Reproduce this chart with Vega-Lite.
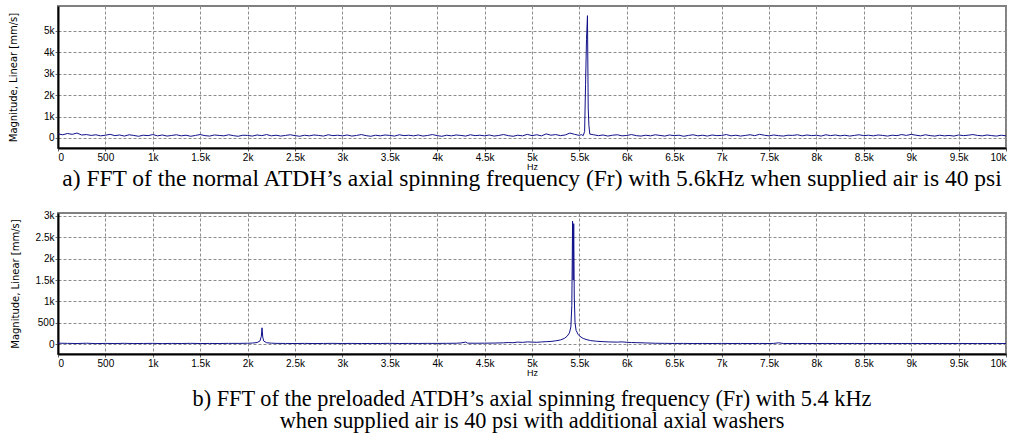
{
  "$schema": "https://vega.github.io/schema/vega-lite/v6.json",
  "background": "white",
  "padding": {"left": 7, "top": 5, "right": 10, "bottom": 2},
  "columns": 1,
  "align": "none",
  "spacing": {"row": 17, "column": 0},
  "config": {
    "view": {"stroke": "#808080", "strokeWidth": 2},
    "axis": {
      "labelFont": "Liberation Sans", "labelFontSize": 10, "labelColor": "#000",
      "titleFont": "DejaVu Sans", "titleFontSize": 10, "titleFontWeight": "normal", "titleColor": "#000",
      "domainColor": "#000", "domainWidth": 2,
      "tickColor": "#666666", "tickSize": 3, "labelPadding": 1,
      "labelExpr": "datum.value == 0 ? '0' : (datum.value < 1000 ? format(datum.value, 'd') : format(datum.value / 1000, '~g') + 'k')"
    },
    "title": {"font": "Liberation Serif", "fontWeight": "normal", "color": "#000", "anchor": "middle"}
  },
  "datasets": {
    "a": [
      {"f":0,"m":190},{"f":50,"m":150},{"f":100,"m":210},{"f":150,"m":170},{"f":200,"m":230},{"f":250,"m":140},{"f":300,"m":160},{"f":350,"m":120},{"f":400,"m":150},{"f":450,"m":100},
      {"f":500,"m":130},{"f":550,"m":170},{"f":600,"m":110},{"f":650,"m":140},{"f":700,"m":90},{"f":750,"m":150},{"f":800,"m":120},{"f":850,"m":80},{"f":900,"m":130},{"f":950,"m":110},
      {"f":1000,"m":160},{"f":1050,"m":100},{"f":1100,"m":140},{"f":1150,"m":90},{"f":1200,"m":120},{"f":1250,"m":150},{"f":1300,"m":100},{"f":1350,"m":130},{"f":1400,"m":80},{"f":1450,"m":120},
      {"f":1500,"m":160},{"f":1550,"m":110},{"f":1600,"m":90},{"f":1650,"m":140},{"f":1700,"m":120},{"f":1750,"m":100},{"f":1800,"m":150},{"f":1850,"m":110},{"f":1900,"m":80},{"f":1950,"m":130},
      {"f":2000,"m":120},{"f":2050,"m":90},{"f":2100,"m":140},{"f":2150,"m":110},{"f":2200,"m":160},{"f":2250,"m":100},{"f":2300,"m":130},{"f":2350,"m":90},{"f":2400,"m":120},{"f":2450,"m":150},
      {"f":2500,"m":110},{"f":2550,"m":80},{"f":2600,"m":130},{"f":2650,"m":100},{"f":2700,"m":140},{"f":2750,"m":120},{"f":2800,"m":90},{"f":2850,"m":150},{"f":2900,"m":110},{"f":2950,"m":130},
      {"f":3000,"m":100},{"f":3050,"m":140},{"f":3100,"m":90},{"f":3150,"m":120},{"f":3200,"m":160},{"f":3250,"m":110},{"f":3300,"m":80},{"f":3350,"m":130},{"f":3400,"m":100},{"f":3450,"m":140},
      {"f":3500,"m":120},{"f":3550,"m":90},{"f":3600,"m":150},{"f":3650,"m":110},{"f":3700,"m":130},{"f":3750,"m":100},{"f":3800,"m":140},{"f":3850,"m":90},{"f":3900,"m":120},{"f":3950,"m":160},
      {"f":4000,"m":110},{"f":4050,"m":80},{"f":4100,"m":130},{"f":4150,"m":100},{"f":4200,"m":140},{"f":4250,"m":120},{"f":4300,"m":90},{"f":4350,"m":150},{"f":4400,"m":110},{"f":4450,"m":130},
      {"f":4500,"m":100},{"f":4550,"m":140},{"f":4600,"m":90},{"f":4650,"m":120},{"f":4700,"m":160},{"f":4750,"m":110},{"f":4800,"m":80},{"f":4850,"m":130},{"f":4900,"m":100},{"f":4950,"m":170},
      {"f":5000,"m":110},{"f":5050,"m":150},{"f":5100,"m":100},{"f":5150,"m":190},{"f":5200,"m":130},{"f":5250,"m":160},{"f":5300,"m":110},{"f":5350,"m":140},{"f":5400,"m":230},{"f":5450,"m":170},
      {"f":5500,"m":120},{"f":5520,"m":160},{"f":5540,"m":110},{"f":5555,"m":300},{"f":5565,"m":2500},{"f":5575,"m":4600},{"f":5585,"m":5700},{"f":5593,"m":1400},{"f":5600,"m":600},{"f":5610,"m":180},
      {"f":5650,"m":150},{"f":5700,"m":110},{"f":5750,"m":140},{"f":5800,"m":90},{"f":5850,"m":130},{"f":5900,"m":150},{"f":5950,"m":100},{"f":6000,"m":120},
      {"f":6050,"m":160},{"f":6100,"m":110},{"f":6150,"m":90},{"f":6200,"m":130},{"f":6250,"m":100},{"f":6300,"m":150},{"f":6350,"m":120},{"f":6400,"m":90},{"f":6450,"m":140},{"f":6500,"m":110},
      {"f":6550,"m":130},{"f":6600,"m":80},{"f":6650,"m":120},{"f":6700,"m":150},{"f":6750,"m":100},{"f":6800,"m":130},{"f":6850,"m":90},{"f":6900,"m":140},{"f":6950,"m":110},{"f":7000,"m":120},
      {"f":7050,"m":160},{"f":7100,"m":100},{"f":7150,"m":130},{"f":7200,"m":90},{"f":7250,"m":120},{"f":7300,"m":150},{"f":7350,"m":110},{"f":7400,"m":170},{"f":7450,"m":130},{"f":7500,"m":100},
      {"f":7550,"m":140},{"f":7600,"m":110},{"f":7650,"m":90},{"f":7700,"m":130},{"f":7750,"m":120},{"f":7800,"m":150},{"f":7850,"m":100},{"f":7900,"m":140},{"f":7950,"m":110},{"f":8000,"m":130},
      {"f":8050,"m":90},{"f":8100,"m":150},{"f":8150,"m":110},{"f":8200,"m":140},{"f":8250,"m":100},{"f":8300,"m":130},{"f":8350,"m":90},{"f":8400,"m":120},{"f":8450,"m":150},{"f":8500,"m":110},
      {"f":8550,"m":130},{"f":8600,"m":100},{"f":8650,"m":140},{"f":8700,"m":120},{"f":8750,"m":90},{"f":8800,"m":130},{"f":8850,"m":110},{"f":8900,"m":160},{"f":8950,"m":120},{"f":9000,"m":170},
      {"f":9050,"m":130},{"f":9100,"m":100},{"f":9150,"m":150},{"f":9200,"m":110},{"f":9250,"m":90},{"f":9300,"m":130},{"f":9350,"m":100},{"f":9400,"m":120},{"f":9450,"m":90},{"f":9500,"m":140},
      {"f":9550,"m":110},{"f":9600,"m":130},{"f":9650,"m":160},{"f":9700,"m":120},{"f":9750,"m":100},{"f":9800,"m":140},{"f":9850,"m":110},{"f":9900,"m":90},{"f":9950,"m":130},{"f":10000,"m":100}
    ],
    "b": [
      {"f":0,"m":20},{"f":100,"m":15},{"f":200,"m":12},{"f":300,"m":18},{"f":400,"m":10},{"f":500,"m":14},{"f":600,"m":12},{"f":700,"m":16},{"f":800,"m":11},{"f":900,"m":13},
      {"f":1000,"m":15},{"f":1100,"m":10},{"f":1200,"m":14},{"f":1300,"m":12},{"f":1400,"m":16},{"f":1500,"m":11},{"f":1600,"m":13},{"f":1700,"m":12},{"f":1800,"m":15},{"f":1900,"m":14},
      {"f":2000,"m":18},{"f":2050,"m":22},{"f":2100,"m":35},{"f":2130,"m":70},{"f":2145,"m":180},{"f":2152,"m":380},{"f":2160,"m":160},{"f":2170,"m":70},{"f":2200,"m":30},{"f":2250,"m":20},
      {"f":2300,"m":15},{"f":2400,"m":13},{"f":2500,"m":12},{"f":2600,"m":14},{"f":2700,"m":11},{"f":2800,"m":13},{"f":2900,"m":15},{"f":3000,"m":12},{"f":3100,"m":14},{"f":3200,"m":11},
      {"f":3300,"m":13},{"f":3400,"m":12},{"f":3500,"m":16},{"f":3600,"m":12},{"f":3700,"m":14},{"f":3800,"m":13},{"f":3900,"m":15},{"f":4000,"m":14},{"f":4100,"m":16},{"f":4200,"m":18},
      {"f":4250,"m":25},{"f":4300,"m":45},{"f":4320,"m":20},{"f":4400,"m":18},{"f":4500,"m":20},{"f":4600,"m":22},{"f":4700,"m":28},{"f":4750,"m":35},{"f":4800,"m":30},{"f":4850,"m":45},
      {"f":4900,"m":38},{"f":4950,"m":50},{"f":5000,"m":45},{"f":5050,"m":40},{"f":5100,"m":48},{"f":5150,"m":55},{"f":5200,"m":60},{"f":5250,"m":75},{"f":5300,"m":95},{"f":5340,"m":130},
      {"f":5370,"m":180},{"f":5395,"m":260},{"f":5410,"m":400},{"f":5420,"m":900},{"f":5428,"m":2880},{"f":5434,"m":1500},{"f":5440,"m":2820},{"f":5446,"m":1100},{"f":5454,"m":500},{"f":5465,"m":320},
      {"f":5485,"m":230},{"f":5505,"m":180},{"f":5540,"m":130},{"f":5580,"m":100},{"f":5620,"m":80},{"f":5680,"m":65},{"f":5750,"m":55},{"f":5820,"m":48},{"f":5900,"m":45},{"f":5950,"m":50},
      {"f":6000,"m":40},{"f":6050,"m":35},{"f":6100,"m":32},{"f":6200,"m":25},{"f":6300,"m":18},{"f":6400,"m":15},{"f":6500,"m":13},{"f":6600,"m":14},{"f":6700,"m":12},{"f":6800,"m":13},
      {"f":6900,"m":12},{"f":7000,"m":14},{"f":7100,"m":12},{"f":7200,"m":13},{"f":7300,"m":11},{"f":7400,"m":13},{"f":7500,"m":12},{"f":7550,"m":14},{"f":7600,"m":28},{"f":7650,"m":13},
      {"f":7700,"m":12},{"f":7800,"m":13},{"f":7900,"m":11},{"f":8000,"m":12},{"f":8100,"m":13},{"f":8200,"m":11},{"f":8300,"m":12},{"f":8400,"m":13},{"f":8500,"m":11},{"f":8600,"m":12},
      {"f":8700,"m":13},{"f":8800,"m":11},{"f":8900,"m":12},{"f":9000,"m":13},{"f":9100,"m":11},{"f":9200,"m":12},{"f":9300,"m":12},{"f":9400,"m":11},{"f":9500,"m":13},{"f":9600,"m":12},
      {"f":9700,"m":11},{"f":9800,"m":12},{"f":9900,"m":13},{"f":10000,"m":12}
    ]
  },
  "concat": [
    {
      "width": 948, "height": 142,
      "data": {"name": "a"},
      "title": {"text": "a) FFT of the normal ATDH’s axial spinning frequency (Fr) with 5.6kHz when supplied air is 40 psi", "orient": "bottom", "offset": -4, "fontSize": 23.5},
      "mark": {"type": "line", "color": "#10108a", "strokeWidth": 1, "clip": true},
      "encoding": {
        "x": {"field": "f", "type": "quantitative", "scale": {"domain": [0, 10000], "nice": false},
              "axis": {"grid": true, "gridDash": [3, 2], "gridColor": "#8c8c8c", "values": [0,500,1000,1500,2000,2500,3000,3500,4000,4500,5000,5500,6000,6500,7000,7500,8000,8500,9000,9500,10000], "title": "Hz", "titlePadding": 0, "titleFont": "Liberation Sans", "titleFontSize": 9}},
        "y": {"field": "m", "type": "quantitative", "scale": {"domain": [-466, 6150], "nice": false, "zero": false},
              "axis": {"grid": true, "gridDash": [3, 2], "gridColor": "#8c8c8c", "values": [0,1000,2000,3000,4000,5000], "title": "Magnitude, Linear [mm/s]", "titlePadding": 25}}
      }
    },
    {
      "width": 948, "height": 141,
      "data": {"name": "b"},
      "title": {"text": ["b) FFT of the preloaded ATDH’s axial spinning frequency (Fr) with 5.4 kHz", "when supplied air is 40 psi with additional axial washers"], "orient": "bottom", "offset": 11, "fontSize": 22.3, "lineHeight": 22},
      "mark": {"type": "line", "color": "#10108a", "strokeWidth": 1, "clip": true},
      "encoding": {
        "x": {"field": "f", "type": "quantitative", "scale": {"domain": [0, 10000], "nice": false},
              "axis": {"grid": true, "gridDash": [3, 2], "gridColor": "#8c8c8c", "values": [0,500,1000,1500,2000,2500,3000,3500,4000,4500,5000,5500,6000,6500,7000,7500,8000,8500,9000,9500,10000], "title": "Hz", "titlePadding": 0, "titleFont": "Liberation Sans", "titleFontSize": 9}},
        "y": {"field": "m", "type": "quantitative", "scale": {"domain": [-234, 3070], "nice": false, "zero": false},
              "axis": {"grid": true, "gridDash": [3, 2], "gridColor": "#8c8c8c", "values": [0,500,1000,1500,2000,2500,3000], "title": "Magnitude, Linear [mm/s]", "titlePadding": 15}}
      }
    }
  ]
}
